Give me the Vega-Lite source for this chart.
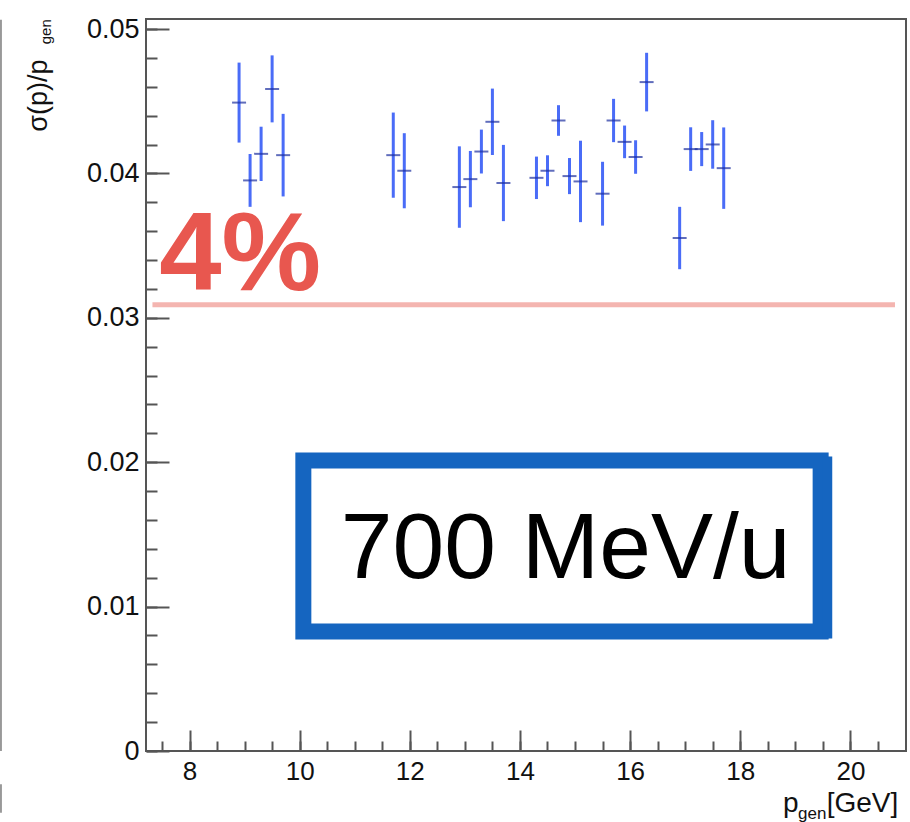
{
  "$schema": "https://vega.github.io/schema/vega-lite/v6.json",
  "width": 760,
  "height": 732,
  "autosize": "none",
  "padding": {"left": 146, "top": 19, "right": 4, "bottom": 71},
  "background": "white",
  "config": {
    "view": {"stroke": "#555555", "strokeWidth": 2},
    "axis": {"grid": false, "domain": false, "labelFont": "Liberation Sans", "labelFontSize": 27, "labelColor": "#111111", "tickColor": "#555555", "tickWidth": 2, "labelFlush": false, "labelOverlap": false}
  },
  "resolve": {"axis": {"x": "independent", "y": "independent"}},
  "data": {"values": [
    {"p": 8.9, "res": 0.04491, "err": 0.00277},
    {"p": 9.1, "res": 0.03952, "err": 0.00183},
    {"p": 9.3, "res": 0.04136, "err": 0.00188},
    {"p": 9.5, "res": 0.04586, "err": 0.00232},
    {"p": 9.7, "res": 0.04127, "err": 0.00286},
    {"p": 11.7, "res": 0.04127, "err": 0.00295},
    {"p": 11.9, "res": 0.04019, "err": 0.0026},
    {"p": 12.9, "res": 0.03906, "err": 0.00282},
    {"p": 13.1, "res": 0.03961, "err": 0.00195},
    {"p": 13.3, "res": 0.04152, "err": 0.00152},
    {"p": 13.5, "res": 0.04358, "err": 0.0023},
    {"p": 13.7, "res": 0.03934, "err": 0.00264},
    {"p": 14.3, "res": 0.0397, "err": 0.00147},
    {"p": 14.5, "res": 0.04019, "err": 0.00107},
    {"p": 14.7, "res": 0.04367, "err": 0.00106},
    {"p": 14.9, "res": 0.03982, "err": 0.00125},
    {"p": 15.1, "res": 0.03945, "err": 0.00282},
    {"p": 15.5, "res": 0.0386, "err": 0.00221},
    {"p": 15.7, "res": 0.04367, "err": 0.0015},
    {"p": 15.9, "res": 0.04219, "err": 0.00113},
    {"p": 16.1, "res": 0.04114, "err": 0.00116},
    {"p": 16.3, "res": 0.04633, "err": 0.00203},
    {"p": 16.9, "res": 0.03553, "err": 0.00216},
    {"p": 17.1, "res": 0.04169, "err": 0.00151},
    {"p": 17.3, "res": 0.04169, "err": 0.00118},
    {"p": 17.5, "res": 0.04201, "err": 0.00168},
    {"p": 17.7, "res": 0.04037, "err": 0.00282}
  ]},
  "layer": [
    {
      "data": {"values": [{}]},
      "mark": {"type": "rule", "color": "#f4b5b0", "strokeWidth": 5},
      "encoding": {
        "x": {"datum": 7.327, "type": "quantitative", "scale": {"domain": [7.21, 21.01], "nice": false, "zero": false},
          "axis": {"orient": "top", "offset": -732, "title": null, "values": [7.5, 8, 8.5, 9, 9.5, 10, 10.5, 11, 11.5, 12, 12.5, 13, 13.5, 14, 14.5, 15, 15.5, 16, 16.5, 17, 17.5, 18, 18.5, 19, 19.5, 20, 20.5], "labels": false, "tickSize": 10}},
        "x2": {"datum": 20.81},
        "y": {"datum": 0.03091, "type": "quantitative", "scale": {"domain": [0, 0.0507], "nice": false, "zero": false},
          "axis": {"orient": "right", "offset": -760, "title": null, "values": [0, 0.002, 0.004, 0.006, 0.008, 0.01, 0.012, 0.014, 0.016, 0.018, 0.02, 0.022, 0.024, 0.026, 0.028, 0.03, 0.032, 0.034, 0.036, 0.038, 0.04, 0.042, 0.044, 0.046, 0.048, 0.05], "labels": false, "tickSize": 11}}
      }
    },
    {
      "mark": {"type": "errorbar", "color": "#4a6cf7", "thickness": 3, "ticks": false},
      "encoding": {
        "x": {"field": "p", "type": "quantitative", "title": null, "scale": {"domain": [7.21, 21.01], "nice": false, "zero": false},
          "axis": {"orient": "bottom", "title": null, "values": [8, 10, 12, 14, 16, 18, 20], "ticks": false, "labelPadding": 7, "labelFontSize": 26, "format": "d"}},
        "y": {"field": "res", "type": "quantitative", "title": null, "scale": {"domain": [0, 0.0507], "nice": false, "zero": false},
          "axis": {"orient": "left", "title": null, "values": [0, 0.01, 0.02, 0.03, 0.04, 0.05], "ticks": false, "labelPadding": 7, "format": ".2~f"}},
        "yError": {"field": "err"}
      }
    },
    {
      "mark": {"type": "tick", "orient": "horizontal", "color": "#1c2fa0", "thickness": 2, "size": 14},
      "encoding": {
        "x": {"field": "p", "type": "quantitative", "scale": {"domain": [7.21, 21.01], "nice": false, "zero": false},
          "axis": {"orient": "top", "offset": -732, "title": null, "values": [8, 10, 12, 14, 16, 18, 20], "labels": false, "tickSize": 21}},
        "y": {"field": "res", "type": "quantitative", "scale": {"domain": [0, 0.0507], "nice": false, "zero": false},
          "axis": {"orient": "right", "offset": -760, "title": null, "values": [0, 0.01, 0.02, 0.03, 0.04, 0.05], "labels": false, "tickSize": 23}}
      }
    },
    {
      "data": {"values": [{}]},
      "mark": {"type": "text", "text": "4%", "font": "Liberation Sans", "fontWeight": "bold", "fontSize": 112, "color": "#e8574f", "align": "left", "baseline": "alphabetic"},
      "encoding": {
        "x": {"datum": 7.449, "type": "quantitative", "scale": {"domain": [7.21, 21.01], "nice": false, "zero": false}, "axis": null},
        "y": {"datum": 0.03195, "type": "quantitative", "scale": {"domain": [0, 0.0507], "nice": false, "zero": false}, "axis": null}
      }
    },
    {
      "data": {"values": [{}]},
      "mark": {"type": "rect", "fill": "transparent", "stroke": "#1565c0", "strokeWidth": 16},
      "encoding": {
        "x": {"datum": 10.067, "type": "quantitative", "scale": {"domain": [7.21, 21.01], "nice": false, "zero": false}, "axis": null},
        "x2": {"datum": 19.46},
        "y": {"datum": 0.02012, "type": "quantitative", "scale": {"domain": [0, 0.0507], "nice": false, "zero": false}, "axis": null},
        "y2": {"datum": 0.00828}
      }
    },
    {
      "data": {"values": [{}]},
      "mark": {"type": "rule", "color": "#1565c0", "strokeWidth": 10},
      "encoding": {
        "x": {"datum": 19.58, "type": "quantitative", "scale": {"domain": [7.21, 21.01], "nice": false, "zero": false}, "axis": null},
        "y": {"datum": 0.0204, "type": "quantitative", "scale": {"domain": [0, 0.0507], "nice": false, "zero": false}, "axis": null},
        "y2": {"datum": 0.0078}
      }
    },
    {
      "data": {"values": [{}]},
      "mark": {"type": "text", "text": "700 MeV/u", "font": "Liberation Sans", "fontSize": 93, "color": "#000000", "align": "center", "baseline": "alphabetic"},
      "encoding": {
        "x": {"datum": 14.83, "type": "quantitative", "scale": {"domain": [7.21, 21.01], "nice": false, "zero": false}, "axis": null},
        "y": {"datum": 0.01195, "type": "quantitative", "scale": {"domain": [0, 0.0507], "nice": false, "zero": false}, "axis": null}
      }
    },
    {
      "data": {"values": [{}]},
      "mark": {"type": "text", "text": "σ(p)/p", "font": "Liberation Sans", "fontSize": 27, "color": "#111111", "align": "left", "baseline": "alphabetic", "angle": 270},
      "encoding": {
        "x": {"datum": 5.413, "type": "quantitative", "scale": {"domain": [7.21, 21.01], "nice": false, "zero": false}, "axis": null},
        "y": {"datum": 0.04289, "type": "quantitative", "scale": {"domain": [0, 0.0507], "nice": false, "zero": false}, "axis": null}
      }
    },
    {
      "data": {"values": [{}]},
      "mark": {"type": "text", "text": "gen", "font": "Liberation Sans", "fontSize": 15, "color": "#111111", "align": "left", "baseline": "alphabetic", "angle": 270},
      "encoding": {
        "x": {"datum": 5.485, "type": "quantitative", "scale": {"domain": [7.21, 21.01], "nice": false, "zero": false}, "axis": null},
        "y": {"datum": 0.04895, "type": "quantitative", "scale": {"domain": [0, 0.0507], "nice": false, "zero": false}, "axis": null}
      }
    },
    {
      "data": {"values": [{}]},
      "mark": {"type": "text", "text": "p", "font": "Liberation Sans", "fontSize": 28, "color": "#111111", "align": "left", "baseline": "alphabetic"},
      "encoding": {
        "x": {"datum": 18.776, "type": "quantitative", "scale": {"domain": [7.21, 21.01], "nice": false, "zero": false}, "axis": null},
        "y": {"datum": -0.0042, "type": "quantitative", "scale": {"domain": [0, 0.0507], "nice": false, "zero": false}, "axis": null}
      }
    },
    {
      "data": {"values": [{}]},
      "mark": {"type": "text", "text": "gen", "font": "Liberation Sans", "fontSize": 17, "color": "#111111", "align": "left", "baseline": "alphabetic"},
      "encoding": {
        "x": {"datum": 19.049, "type": "quantitative", "scale": {"domain": [7.21, 21.01], "nice": false, "zero": false}, "axis": null},
        "y": {"datum": -0.00468, "type": "quantitative", "scale": {"domain": [0, 0.0507], "nice": false, "zero": false}, "axis": null}
      }
    },
    {
      "data": {"values": [{}]},
      "mark": {"type": "text", "text": "[GeV]", "font": "Liberation Sans", "fontSize": 28, "color": "#111111", "align": "left", "baseline": "alphabetic"},
      "encoding": {
        "x": {"datum": 19.57, "type": "quantitative", "scale": {"domain": [7.21, 21.01], "nice": false, "zero": false}, "axis": null},
        "y": {"datum": -0.0042, "type": "quantitative", "scale": {"domain": [0, 0.0507], "nice": false, "zero": false}, "axis": null}
      }
    },
    {
      "data": {"values": [{}]},
      "mark": {"type": "rule", "color": "#999999", "strokeWidth": 2},
      "encoding": {
        "x": {"datum": 4.576, "type": "quantitative", "scale": {"domain": [7.21, 21.01], "nice": false, "zero": false}, "axis": null},
        "y": {"datum": 0.05064, "type": "quantitative", "scale": {"domain": [0, 0.0507], "nice": false, "zero": false}, "axis": null},
        "y2": {"datum": 0.0}
      }
    },
    {
      "data": {"values": [{}]},
      "mark": {"type": "rule", "color": "#999999", "strokeWidth": 2},
      "encoding": {
        "x": {"datum": 4.576, "type": "quantitative", "scale": {"domain": [7.21, 21.01], "nice": false, "zero": false}, "axis": null},
        "y": {"datum": -0.0023, "type": "quantitative", "scale": {"domain": [0, 0.0507], "nice": false, "zero": false}, "axis": null},
        "y2": {"datum": -0.00427}
      }
    }
  ]
}
